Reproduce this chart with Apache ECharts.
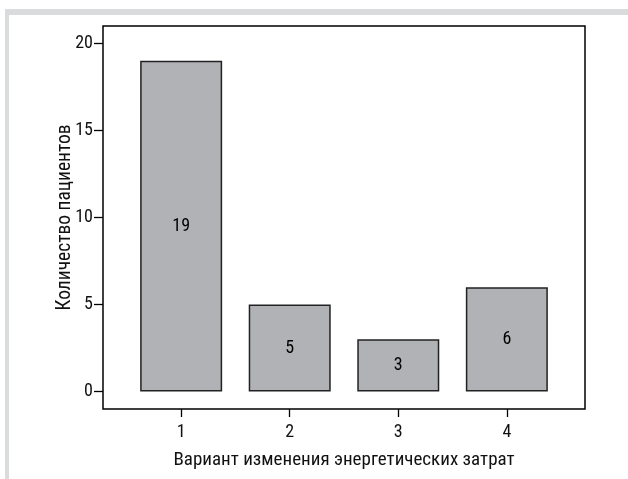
<!DOCTYPE html>
<html><head><meta charset="utf-8">
<script src="https://cdn.jsdelivr.net/npm/echarts@6/dist/echarts.min.js"></script>
<style>html,body{margin:0;padding:0;background:#fff}#c{width:628px;height:479px}</style>
</head><body><div id="c"></div>
<script>
var categories = ['1', '2', '3', '4'];
var values = [19, 5, 3, 6];
var yTicks = [0, 5, 10, 15, 20];
var xTitle = 'Вариант изменения энергетических затрат';
var yTitle = 'Количество пациентов';

var font = '"Roboto Condensed", "Liberation Sans Narrow", sans-serif';
var chart = echarts.init(document.getElementById('c'));
var positions = categories.map(function (c) { return Number(c); });
chart.setOption({
  animation: false,
  backgroundColor: '#fff',
  graphic: [
    { type: 'rect', shape: { x: 5, y: 9, width: 623, height: 6 }, style: { fill: '#d9dbdc' } },
    { type: 'rect', shape: { x: 5, y: 9, width: 4, height: 470 }, style: { fill: '#d9dbdc' } }
  ],
  grid: { left: 103, right: 43, top: 26, bottom: 70, show: true, borderColor: '#000', borderWidth: 1.5, backgroundColor: '#fff' },
  xAxis: {
    type: 'value', min: 0.28, max: 4.72,
    name: xTitle, nameLocation: 'middle', nameGap: 42, nameMoveOverlap: false,
    nameTextStyle: { fontFamily: font, fontSize: 19, color: '#111' },
    axisLine: { show: false, onZero: false },
    splitLine: { show: false },
    axisTick: { show: true, length: 8, customValues: positions, lineStyle: { color: '#000', width: 1.3 } },
    axisLabel: { customValues: positions, margin: 14, fontFamily: font, fontSize: 18, color: '#111',
      formatter: function (v) { return categories[positions.indexOf(v)] || ''; } }
  },
  yAxis: {
    type: 'value', min: -1, max: 21,
    name: yTitle, nameLocation: 'middle', nameGap: 28, nameMoveOverlap: false,
    nameTextStyle: { fontFamily: font, fontSize: 19.5, color: '#111' },
    axisLine: { show: false, onZero: false },
    splitLine: { show: false },
    axisTick: { show: true, length: 9, customValues: yTicks, lineStyle: { color: '#000', width: 1.3 } },
    axisLabel: { customValues: yTicks, margin: 10, fontFamily: font, fontSize: 18, color: '#111' }
  },
  series: [{
    type: 'bar',
    barWidth: 82,
    data: values.map(function (v, i) { return [positions[i], v]; }),
    itemStyle: { color: '#b1b2b5', borderColor: '#222', borderWidth: 1.5 },
    label: { show: true, position: 'inside', fontFamily: font, fontSize: 18, color: '#000',
      formatter: function (p) { return p.value[1]; } }
  }]
});
</script></body></html>
